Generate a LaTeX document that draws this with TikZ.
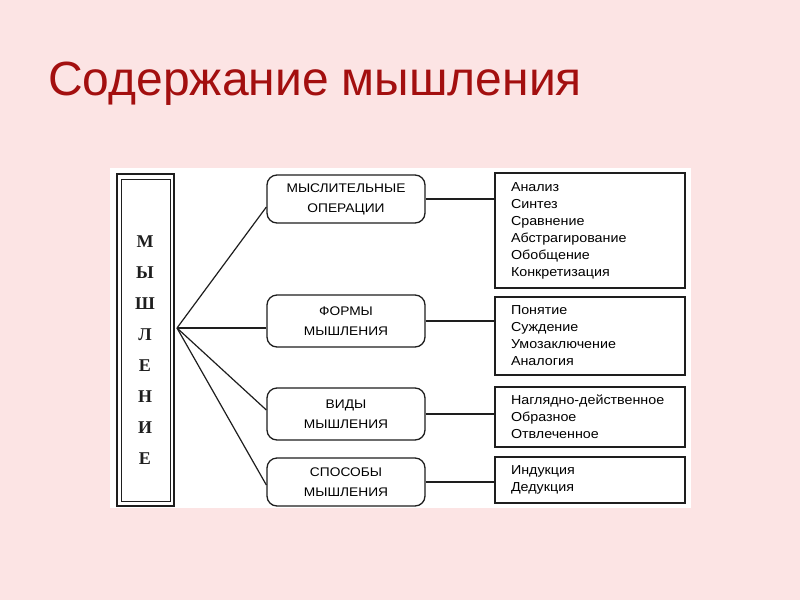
\documentclass[tikz,border=0pt]{standalone}
\usepackage{fontspec}
\setmainfont{Liberation Sans}
\newfontfamily\serifcyr{Liberation Serif}
\newfontfamily\widesans[FakeStretch=1.1]{Liberation Sans}
\definecolor{bgpink}{HTML}{FCE4E4}
\definecolor{titlered}{HTML}{A30F0F}
\definecolor{ink}{HTML}{1E1E1E}
\begin{document}
\begin{tikzpicture}[x=1pt,y=-1pt,
  oval/.style={draw=ink,line width=1.3pt,rounded corners=10pt,minimum width=158pt,inner sep=0pt,align=center,font=\widesans\fontsize{12.5}{20}\selectfont},
  listbox/.style={draw=ink,line width=1.3pt,minimum width=190pt,inner xsep=16pt,inner ysep=0pt,text width=158pt,align=left,font=\widesans\fontsize{13}{17}\selectfont},
  conn/.style={draw=ink,line width=1.2pt}]
\useasboundingbox (0,0) rectangle (800,600);
\fill[bgpink] (0,0) rectangle (800,600);
\fill[white] (110,168) rectangle (691,508);
\node[anchor=base west,text=titlered,font=\fontsize{48}{50}\selectfont,inner sep=0pt] (title) at (48,95) {Содержание мышления};
% left box
\draw[ink,line width=1.3pt] (117,174) rectangle (174,506);
\draw[ink,line width=0.9pt] (121,179) rectangle (170,501);
\node[font=\serifcyr\bfseries\fontsize{18}{31}\selectfont,align=center,inner sep=0pt,text=ink] (mysh) at (145,350) {М\\Ы\\Ш\\Л\\Е\\Н\\И\\Е};
\coordinate (fan) at (177,328);
% ovals
\node[oval,minimum height=48pt] (o1) at (346,199) {МЫСЛИТЕЛЬНЫЕ\\ОПЕРАЦИИ};
\node[oval,minimum height=52pt] (o2) at (346,321) {ФОРМЫ\\МЫШЛЕНИЯ};
\node[oval,minimum height=52pt] (o3) at (346,414) {ВИДЫ\\МЫШЛЕНИЯ};
\node[oval,minimum height=48pt] (o4) at (346,482) {СПОСОБЫ\\МЫШЛЕНИЯ};
% list boxes
\node[listbox,minimum height=115pt] (l1) at (590,230.5) {Анализ\\Синтез\\Сравнение\\Абстрагирование\\Обобщение\\Конкретизация};
\node[listbox,minimum height=78pt] (l2) at (590,336) {Понятие\\Суждение\\Умозаключение\\Аналогия};
\node[listbox,minimum height=60pt] (l3) at (590,417) {Наглядно-действенное\\Образное\\Отвлеченное};
\node[listbox,minimum height=46pt] (l4) at (590,480) {Индукция\\Дедукция};
% connectors
\draw[conn] (fan) -- ([yshift=-8pt]o1.west);
\draw[conn] (fan) -- ([yshift=-7pt]o2.west);
\draw[conn] (fan) -- ([yshift=4pt]o3.west);
\draw[conn] (fan) -- ([yshift=-3pt]o4.west);
\draw[conn] (o1.east) -- (o1.east -| l1.west);
\draw[conn] (o2.east) -- (o2.east -| l2.west);
\draw[conn] (o3.east) -- (o3.east -| l3.west);
\draw[conn] (o4.east) -- (o4.east -| l4.west);
\end{tikzpicture}
\end{document}
